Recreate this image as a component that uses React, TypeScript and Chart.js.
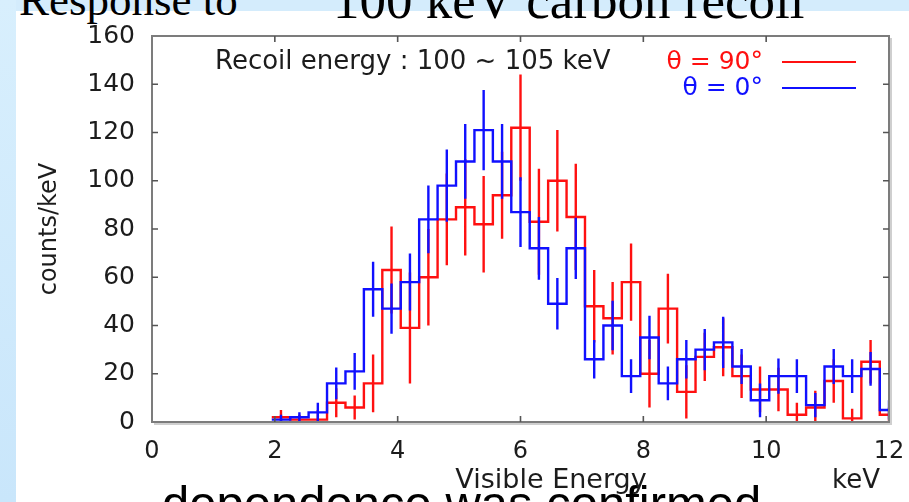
import React, { useEffect, useRef } from "react";
import { Chart, registerables } from "chart.js";

Chart.register(...registerables);

// ---- data ----
const binCenters = [
  2.1, 2.4, 2.7, 3.0, 3.3, 3.6, 3.9, 4.2, 4.5, 4.8, 5.1, 5.4, 5.7, 6.0, 6.3, 6.6, 6.9,
  7.2, 7.5, 7.8, 8.1, 8.4, 8.7, 9.0, 9.3, 9.6, 9.9, 10.2, 10.5, 10.8, 11.1, 11.4, 11.7, 12.0,
];
const binWidth = 0.3;

// theta = 90 deg (red)
const red90 = [
  2, 1, 1, 8, 6, 16, 63, 39, 60, 84, 89, 82, 94, 122, 83, 100, 85,
  48, 43, 58, 20, 47, 12.5, 27, 31, 19, 13.5, 13.5, 3, 6, 17, 1.5, 25, 3,
];
const red90Err = [
  3, 2, 4, 6, 5, 12, 18, 23, 20, 19, 20, 20, 18, 22, 22, 21, 22,
  15, 15, 16, 14, 14.5, 11, 10, 12, 9, 9.5, 9, 5, 7, 9, 4, 9, 3,
];

// theta = 0 deg (blue)
const blue0 = [
  1, 2, 4, 16, 21, 55, 47, 58, 84, 98, 108, 121, 108, 87, 72, 49, 72,
  26, 40, 19, 35, 16, 26, 30, 33, 23, 9, 19, 19, 7, 23, 19, 22, 5,
];
const blue0Err = [
  2, 2, 4, 6.6, 7.6, 11.4, 10.4, 11.8, 14, 15, 15.5, 16.6, 15.5, 14.5, 13, 10.7, 12.7,
  8, 10.3, 7, 9, 7, 8, 8.6, 10.6, 7.3, 7, 7.3, 7, 5, 7.3, 7, 7, 4,
];

const xRange = [0, 12];
const xStep = 2;
const yRange = [0, 160];
const yStep = 20;

const seriesLabels = ["\u03b8 = 90\u00b0", "\u03b8 = 0\u00b0"];
const annotationText = "Recoil energy : 100 ~ 105 keV";
const xTitle = "Visible Energy";
const xUnit = "keV";
const yTitle = "counts/keV";

const RED = "#ff1010";
const BLUE = "#1010ff";
const FONT = "'DejaVu Sans', 'Liberation Sans', sans-serif";
const TEXT = "#1c1c1c";

function histPoints(vals: number[]) {
  const pts: { x: number; y: number | null }[] = vals.map((v, i) => ({
    x: binCenters[i] - binWidth / 2,
    y: v,
  }));
  pts.push({ x: binCenters[binCenters.length - 1] + binWidth / 2, y: vals[vals.length - 1] });
  return pts;
}

function errPoints(vals: number[], errs: number[]) {
  const pts: { x: number; y: number | null }[] = [];
  vals.forEach((v, i) => {
    const c = binCenters[i];
    pts.push({ x: c, y: Math.max(0, v - errs[i]) });
    pts.push({ x: c, y: v + errs[i] });
    pts.push({ x: c, y: null });
  });
  return pts;
}

const framePlugin = {
  id: "framePlugin",
  afterDatasetsDraw(chart: any) {
    const { ctx, chartArea } = chart;
    const { left, right, top, bottom } = chartArea;
    const xs = chart.scales.x;
    const ys = chart.scales.y;
    ctx.save();
    // soft shadow of the frame
    ctx.strokeStyle = "#cfcfcf";
    ctx.lineWidth = 2;
    ctx.beginPath();
    ctx.moveTo(left + 2, bottom + 2);
    ctx.lineTo(right + 2, bottom + 2);
    ctx.lineTo(right + 2, top + 2);
    ctx.stroke();
    // frame
    ctx.strokeStyle = "#7c7c7c";
    ctx.lineWidth = 2;
    ctx.strokeRect(left, top, right - left, bottom - top);
    // inward ticks
    ctx.lineWidth = 1.6;
    ctx.strokeStyle = "#555";
    const tl = 6;
    xs.ticks.forEach((t: any) => {
      const px = xs.getPixelForValue(t.value);
      if (px <= left + 1 || px >= right - 1) return;
      ctx.beginPath();
      ctx.moveTo(px, bottom);
      ctx.lineTo(px, bottom - tl);
      ctx.moveTo(px, top);
      ctx.lineTo(px, top + tl);
      ctx.stroke();
    });
    ys.ticks.forEach((t: any) => {
      const py = ys.getPixelForValue(t.value);
      if (py <= top + 1 || py >= bottom - 1) return;
      ctx.beginPath();
      ctx.moveTo(left, py);
      ctx.lineTo(left + tl, py);
      ctx.moveTo(right, py);
      ctx.lineTo(right - tl, py);
      ctx.stroke();
    });

    // annotation + legend
    ctx.font = `26px ${FONT}`;
    ctx.textBaseline = "middle";
    ctx.fillStyle = TEXT;
    ctx.textAlign = "left";
    ctx.fillText(annotationText, left + 63, top + 26);

    ctx.font = `25px ${FONT}`;
    const legendColors = [RED, BLUE];
    seriesLabels.forEach((lab, i) => {
      const y = top + 26 + i * 26;
      ctx.fillStyle = legendColors[i];
      ctx.textAlign = "right";
      ctx.fillText(lab, right - 126, y);
      ctx.strokeStyle = legendColors[i];
      ctx.lineWidth = 2.2;
      ctx.beginPath();
      ctx.moveTo(right - 107, y);
      ctx.lineTo(right - 33, y);
      ctx.stroke();
    });

    // x axis title and unit
    ctx.fillStyle = TEXT;
    ctx.textAlign = "center";
    ctx.font = `27px ${FONT}`;
    ctx.fillText(xTitle, left + 399, bottom + 59);
    ctx.font = `26px ${FONT}`;
    ctx.fillText(xUnit, right - 33, bottom + 59);
    ctx.restore();
  },
};

export default function App() {
  const ref = useRef<HTMLCanvasElement>(null);

  useEffect(() => {
    document.body.style.margin = "0";
    const canvas = ref.current;
    if (!canvas) return;
    const chart = new Chart(canvas, {
      type: "line",
      data: {
        datasets: [
          {
            label: seriesLabels[1] + " err",
            data: errPoints(blue0, blue0Err) as any,
            borderColor: BLUE,
            borderWidth: 2.4,
            pointRadius: 0,
            fill: false,
            spanGaps: false,
            order: 0,
          },
          {
            label: seriesLabels[1],
            data: histPoints(blue0) as any,
            borderColor: BLUE,
            borderWidth: 2.4,
            pointRadius: 0,
            stepped: "before",
            fill: false,
            order: 1,
          },
          {
            label: seriesLabels[0] + " err",
            data: errPoints(red90, red90Err) as any,
            borderColor: RED,
            borderWidth: 2.4,
            pointRadius: 0,
            fill: false,
            spanGaps: false,
            order: 2,
          },
          {
            label: seriesLabels[0],
            data: histPoints(red90) as any,
            borderColor: RED,
            borderWidth: 2.4,
            pointRadius: 0,
            stepped: "before",
            fill: false,
            order: 3,
          },
        ],
      },
      options: {
        animation: false,
        responsive: false,
        maintainAspectRatio: false,
        events: [],
        layout: { padding: { left: 31, top: 36, right: 20, bottom: 0 } },
        plugins: {
          legend: { display: false },
          tooltip: { enabled: false },
          title: { display: false },
        },
        scales: {
          x: {
            type: "linear",
            min: xRange[0],
            max: xRange[1],
            grid: { display: false, drawTicks: false },
            border: { display: false },
            ticks: {
              stepSize: xStep,
              autoSkip: false,
              maxRotation: 0,
              padding: 15,
              color: TEXT,
              font: { family: FONT, size: 24 },
            },
            afterFit: (s: any) => {
              s.height = 80;
              s.paddingLeft = 0;
              s.paddingRight = 0;
            },
          },
          y: {
            type: "linear",
            min: yRange[0],
            max: yRange[1],
            grid: { display: false, drawTicks: false },
            border: { display: false },
            ticks: {
              stepSize: yStep,
              padding: 17,
              color: TEXT,
              font: { family: FONT, size: 25 },
            },
            title: {
              display: true,
              text: yTitle,
              color: TEXT,
              font: { family: FONT, size: 24 },
              padding: { top: 4, bottom: 4 },
            },
            afterFit: (s: any) => {
              s.width = 152 - 31;
              s.paddingTop = 0;
              s.paddingBottom = 0;
            },
          },
        },
      },
      plugins: [framePlugin],
    } as any);
    return () => chart.destroy();
  }, []);

  const serif = "'Liberation Serif', 'DejaVu Serif', serif";
  return (
    <div
      style={{
        position: "fixed",
        left: 0,
        top: 0,
        width: 909,
        height: 502,
        overflow: "hidden",
        background: "#ffffff",
      }}
    >
      <div
        style={{
          position: "absolute",
          left: 0,
          top: 0,
          width: 909,
          height: 11,
          background: "#d4ecfc",
        }}
      />
      <div
        style={{
          position: "absolute",
          left: 0,
          top: 0,
          width: 16,
          height: 502,
          background: "linear-gradient(180deg, #d8effd 0%, #c9e6fb 100%)",
        }}
      />
      <div
        style={{
          position: "absolute",
          left: 19,
          top: -22,
          font: `45px ${serif}`,
          lineHeight: "45px",
          whiteSpace: "nowrap",
          color: "#000",
        }}
      >
        Response to
      </div>
      <div
        style={{
          position: "absolute",
          left: 333,
          top: -26,
          font: `53px ${serif}`,
          lineHeight: "53px",
          whiteSpace: "nowrap",
          color: "#000",
        }}
      >
        100 keV carbon recoil
      </div>
      <div
        style={{
          position: "absolute",
          left: 162,
          top: 479,
          font: "49px 'Liberation Sans', Arial, sans-serif",
          lineHeight: "49px",
          whiteSpace: "nowrap",
          color: "#000",
        }}
      >
        dependence was confirmed
      </div>
      <canvas
        ref={ref}
        width={909}
        height={502}
        style={{ position: "absolute", left: 0, top: 0, width: 909, height: 502 }}
      />
    </div>
  );
}
